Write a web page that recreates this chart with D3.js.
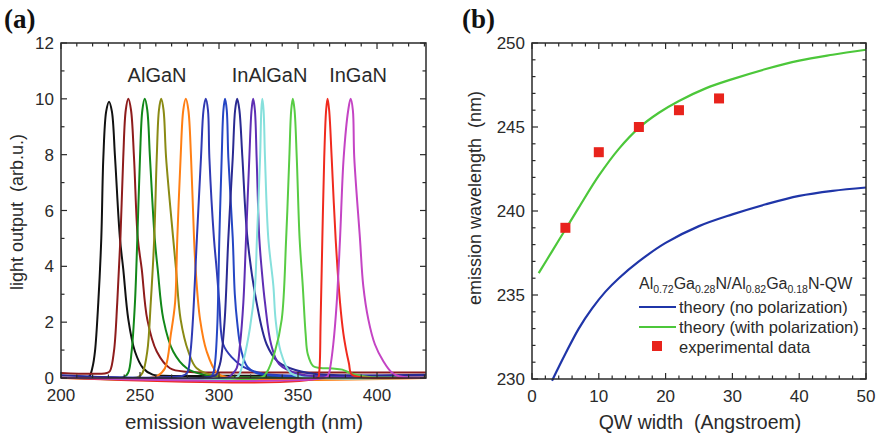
<!DOCTYPE html>
<html>
<head>
<meta charset="utf-8">
<script src="https://cdnjs.cloudflare.com/ajax/libs/d3/7.8.5/d3.min.js"></script>
<style>
  body { margin: 0; background: #fff; }
  svg { font-family: "Liberation Sans", Arial, sans-serif; }
</style>
</head>
<body>
<svg width="881" height="438"></svg>
<script>
// ---- panel (a): emission spectra, [wavelength nm, light output]
var specColors = ["#111111", "#8e1c1c", "#12881a", "#8a8a14", "#ff7f14", "#2f3ab4",
                  "#2546c4", "#2a2a92", "#5e2eb4", "#86e0dc", "#58cc44", "#f02a1e", "#c444c4"];
var specPeaks = [
  [[200,0.03],[216,0.03],[218,0.06],[220,0.4],[221.5,0.95],[223.6,2.7],[225.5,5],[226.8,7.9],[228.6,9.55],[230.4,9.9],[232.2,9.55],[234.2,7.9],[237.3,5],[239.4,3.9],[242.6,2.1],[246.8,0.95],[252,0.35],[258,0.12],[265,0.08],[330,0.08],[345,0.04],[431,0.04]],
  [[200,0.18],[229,0.18],[231,0.25],[233.5,0.95],[235.6,2.7],[237.6,5],[239.4,7.9],[241,9.6],[242.6,10],[244.3,9.6],[246.2,7.9],[248.6,5],[251.1,3.9],[254.6,2.1],[260.6,0.95],[269,0.35],[280,0.22],[300,0.2],[431,0.2]],
  [[200,0.04],[240,0.04],[242.6,0.2],[244.7,0.95],[246.8,2.7],[248.3,5],[250,7.9],[251.5,9.6],[253,10],[254.6,9.6],[256.3,7.9],[259.3,5],[261.2,3.9],[264.8,2.1],[271,0.95],[279.6,0.35],[290,0.12],[300,0.05],[431,0.04]],
  [[200,0.04],[249,0.04],[251.7,0.2],[254.6,0.95],[256.8,2.7],[259,5],[260.6,7.9],[262,9.6],[263.4,10],[264.9,9.6],[266.5,7.9],[271,5],[272.8,3.9],[275.7,2.1],[280.6,0.95],[285.9,0.35],[300,0.07],[431,0.04]],
  [[200,0.0],[256,0.0],[260.6,0.06],[265.8,0.35],[269.6,1.6],[272.2,2.7],[273.6,5],[275.7,7.9],[277.4,9.6],[279,10],[280.6,9.6],[282.3,7.9],[284.2,5],[285.2,3.9],[288,2.1],[292.2,0.95],[298.5,0.2],[306,0.02],[431,0.0]],
  [[200,0.08],[277,0.08],[280,0.2],[282,0.95],[283.5,2.1],[286,5],[288.6,7.9],[290.2,9.6],[291.6,10],[293,9.6],[293.9,7.9],[296.8,5],[298.5,3.9],[300.2,2.7],[302.7,1.2],[308,0.75],[315.4,0.4],[328,0.15],[340,0.1],[431,0.1]],
  [[200,0.06],[295,0.06],[296.5,0.2],[297.6,0.6],[299,2],[300.2,5],[301.7,7.9],[302.8,9.6],[303.8,10],[304.9,9.6],[305.9,7.9],[308.7,5],[310,3],[311.5,2],[314,1],[318,0.4],[325,0.15],[335,0.08],[431,0.06]],
  [[200,0.1],[298,0.1],[299.5,0.3],[301,0.6],[303.5,2],[305.9,5],[308.7,7.9],[310.2,9.6],[311.5,10],[312.9,9.6],[314.8,7.9],[318,5],[323.8,2.7],[330.2,1.2],[337,0.6],[345,0.35],[360,0.15],[431,0.12]],
  [[200,0.03],[306,0.03],[308.5,0.15],[311.2,0.35],[313.3,1.2],[315.4,2.7],[317.1,5],[319.2,7.9],[320.6,9.6],[321.6,10],[322.7,9.6],[323.8,7.9],[325.5,5],[327,3.9],[329.1,2.7],[333,1.2],[338,0.5],[350,0.15],[365,0.05],[431,0.03]],
  [[200,0.02],[311,0.02],[313,0.15],[315.4,0.6],[319.6,1.8],[322.8,3.3],[324,5],[326,7.9],[326.8,9.6],[327.4,10],[328.2,9.6],[329.1,7.9],[331.2,5],[334.4,3.3],[335.8,2.1],[339,0.95],[345,0.2],[352,0.04],[431,0.02]],
  [[200,0.02],[327,0.02],[330.2,0.2],[335.4,0.95],[339.7,2.1],[342.5,5],[344.5,7.9],[345.7,9.6],[346.7,10],[347.8,9.6],[349.2,7.9],[351,5],[353,3.3],[354.8,1.6],[356.2,0.85],[359.7,0.42],[364,0.36],[372,0.34],[378,0.3],[383,0.18],[388,0.1],[395,0.04],[431,0.02]],
  [[200,0.01],[362.5,0.01],[363.4,0.2],[364.3,2],[365.4,5],[366.6,7.9],[367.8,9.6],[368.7,10],[369.7,9.6],[371.3,7.9],[373.8,5],[376.6,2.7],[378.7,1.6],[380.8,0.9],[382.3,0.5],[383.2,0.2],[384.5,0.1],[390,0.03],[431,0.01]],
  [[200,0.02],[367.5,0.02],[369.5,0.15],[370.3,0.35],[372.3,1.2],[374.5,2.7],[376.6,5],[378.9,7.9],[381.8,9.6],[383.3,10],[384.7,9.6],[385.6,7.9],[389.2,5],[391.3,3.3],[394.5,2.1],[398.7,1.2],[404,0.6],[409.3,0.2],[414,0.06],[431,0.02]]
];
var spectraLabels = ["AlGaN", "InAlGaN", "InGaN"];
var spectraLabelPos = [[260.8, 10.62], [332, 10.62], [388, 10.62]];
var xTicksA = [200, 250, 300, 350, 400];
var yTicksA = [0, 2, 4, 6, 8, 10, 12];

// ---- panel (b): emission wavelength vs QW width
var theoryNoPol = [[3,229.9],[5,231.5],[7,233.0],[9,234.2],[11,235.2],[13,236.0],[16,237.0],[20,238.1],[25,239.1],[30,239.8],[35,240.4],[40,240.9],[45,241.2],[50,241.4]];
var theoryPol = [[1,236.3],[3,237.6],[5,238.9],[7,240.2],[10,242.1],[13,243.7],[16,244.95],[19,245.85],[22,246.55],[26,247.3],[30,247.85],[35,248.45],[40,248.95],[45,249.3],[50,249.6]];
var expWidth = [5, 10, 16, 22, 28];
var expWave = [239.0, 243.5, 245.0, 246.0, 246.7];
var xTicksB = [0, 10, 20, 30, 40, 50];
var yTicksB = [230, 235, 240, 245, 250];
var legendItems = ["theory (no polarization)", "theory (with polarization)", "experimental data"];

var svg = d3.select("svg");
var ink = "#2a2a2a";

// draws a boxed frame with inward ticks on all four sides
function drawFrame(g, x, y, xMajor, xMinorStep, yMajor, yMinorStep) {
  var x0 = x.range()[0], x1 = x.range()[1], y0 = y.range()[0], y1 = y.range()[1];
  var xd = x.domain(), yd = y.domain();
  var xMinor = d3.range(Math.ceil(xd[0] / xMinorStep) * xMinorStep, xd[1] + 1e-9, xMinorStep);
  var yMinor = d3.range(Math.ceil(yd[0] / yMinorStep) * yMinorStep, yd[1] + 1e-9, yMinorStep);
  var t = g.append("g").attr("stroke", ink).attr("stroke-width", 1.2);
  xMinor.forEach(function(v) {
    var big = xMajor.some(function(m) { return Math.abs(m - v) < 1e-6; });
    var len = big ? 6 : 3.5;
    t.append("line").attr("x1", x(v)).attr("x2", x(v)).attr("y1", y0).attr("y2", y0 - len);
    t.append("line").attr("x1", x(v)).attr("x2", x(v)).attr("y1", y1).attr("y2", y1 + len);
  });
  yMinor.forEach(function(v) {
    var big = yMajor.some(function(m) { return Math.abs(m - v) < 1e-6; });
    var len = big ? 6 : 3.5;
    t.append("line").attr("y1", y(v)).attr("y2", y(v)).attr("x1", x0).attr("x2", x0 + len);
    t.append("line").attr("y1", y(v)).attr("y2", y(v)).attr("x1", x1).attr("x2", x1 - len);
  });
  g.append("rect")
    .attr("x", x0).attr("y", y1)
    .attr("width", x1 - x0).attr("height", y0 - y1)
    .attr("fill", "none").attr("stroke", ink).attr("stroke-width", 1.5);

  g.selectAll(".xl").data(xMajor).enter().append("text")
    .attr("x", function(d) { return x(d); }).attr("y", y0 + 23)
    .attr("text-anchor", "middle").attr("font-size", 17).attr("fill", ink)
    .text(function(d) { return d; });
  g.selectAll(".yl").data(yMajor).enter().append("text")
    .attr("x", x0 - 7).attr("y", function(d) { return y(d); })
    .attr("dy", "0.36em")
    .attr("text-anchor", "end").attr("font-size", 17).attr("fill", ink)
    .text(function(d) { return d; });
}

// ---------- panel (a)
var xa = d3.scaleLinear().domain([200, 431]).range([61, 426]);
var ya = d3.scaleLinear().domain([0, 12]).range([378, 43]);
var ga = svg.append("g");

var lineA = d3.line()
  .x(function(d) { return xa(d[0]); })
  .y(function(d) { return ya(d[1]); })
  .curve(d3.curveCatmullRom.alpha(0.5));

ga.append("g").selectAll("path")
  .data(specPeaks)
  .enter()
  .append("path")
  .attr("d", lineA)
  .attr("fill", "none")
  .attr("stroke", function(d, i) { return specColors[i]; })
  .attr("stroke-width", 2)
  .attr("stroke-linejoin", "round");

drawFrame(ga, xa, ya, xTicksA, 10, yTicksA, 1);

ga.selectAll(".lab").data(spectraLabels).enter().append("text")
  .attr("x", function(d, i) { return xa(spectraLabelPos[i][0]); })
  .attr("y", function(d, i) { return ya(spectraLabelPos[i][1]); })
  .attr("text-anchor", "middle").attr("font-size", 20).attr("fill", ink)
  .text(function(d) { return d; });

ga.append("text")
  .attr("x", 244).attr("y", 429)
  .attr("text-anchor", "middle").attr("font-size", 20.5).attr("fill", ink)
  .text("emission wavelength (nm)");
ga.append("text")
  .attr("transform", "translate(23,212) rotate(-90)")
  .attr("text-anchor", "middle").attr("font-size", 18).attr("fill", ink)
  .attr("xml:space", "preserve")
  .text("light output  (arb.u.)");
ga.append("text")
  .attr("x", 4).attr("y", 28)
  .attr("font-family", "'Liberation Serif', 'Times New Roman', serif")
  .attr("font-weight", "bold").attr("font-size", 27).attr("fill", "#111")
  .text("(a)");

// ---------- panel (b)
var xb = d3.scaleLinear().domain([0, 50]).range([532, 866]);
var yb = d3.scaleLinear().domain([230, 250]).range([379, 43]);
var gb = svg.append("g");

var lineB = d3.line()
  .x(function(d) { return xb(d[0]); })
  .y(function(d) { return yb(d[1]); })
  .curve(d3.curveCatmullRom.alpha(0.5));

gb.append("path").datum(theoryNoPol)
  .attr("d", lineB).attr("fill", "none")
  .attr("stroke", "#1f35a8").attr("stroke-width", 2.2);
gb.append("path").datum(theoryPol)
  .attr("d", lineB).attr("fill", "none")
  .attr("stroke", "#4cc73a").attr("stroke-width", 2.2);

gb.selectAll(".exp").data(expWidth).enter().append("rect")
  .attr("x", function(d) { return xb(d) - 5; })
  .attr("y", function(d, i) { return yb(expWave[i]) - 5; })
  .attr("width", 10).attr("height", 10)
  .attr("fill", "#e8231c");

drawFrame(gb, xb, yb, xTicksB, 2, yTicksB, 1);

// legend
var leg = gb.append("g").attr("fill", ink).attr("font-size", 16.5);
var head = leg.append("text").attr("x", 639).attr("y", 289);
[["Al", false], ["0.72", true], ["Ga", false], ["0.28", true], ["N/Al", false],
 ["0.82", true], ["Ga", false], ["0.18", true], ["N-QW", false]].forEach(function(p) {
  head.append("tspan")
    .attr("font-size", p[1] ? 10.5 : 16)
    .attr("dy", p[1] ? 4 : -4)
    .text(p[0]);
});
head.select("tspan").attr("dy", 0);

var legColors = ["#1f35a8", "#4cc73a"];
legColors.forEach(function(c, i) {
  leg.append("line")
    .attr("x1", 639).attr("x2", 676)
    .attr("y1", 307 + i * 20).attr("y2", 307 + i * 20)
    .attr("stroke", c).attr("stroke-width", 2.2);
});
leg.append("rect")
  .attr("x", 652).attr("y", 341).attr("width", 10).attr("height", 10)
  .attr("fill", "#e8231c");
leg.selectAll(".lt").data(legendItems).enter().append("text")
  .attr("x", 679).attr("y", function(d, i) { return 307 + i * 20; })
  .attr("dy", "0.36em")
  .text(function(d) { return d; });

gb.append("text")
  .attr("x", 700).attr("y", 429)
  .attr("text-anchor", "middle").attr("font-size", 19.5).attr("fill", ink)
  .attr("xml:space", "preserve")
  .text("QW width  (Angstroem)");
gb.append("text")
  .attr("transform", "translate(481,198) rotate(-90)")
  .attr("text-anchor", "middle").attr("font-size", 18).attr("fill", ink)
  .attr("xml:space", "preserve")
  .text("emission wavelength  (nm)");
gb.append("text")
  .attr("x", 462).attr("y", 28)
  .attr("font-family", "'Liberation Serif', 'Times New Roman', serif")
  .attr("font-weight", "bold").attr("font-size", 27).attr("fill", "#111")
  .text("(b)");
</script>
</body>
</html>
